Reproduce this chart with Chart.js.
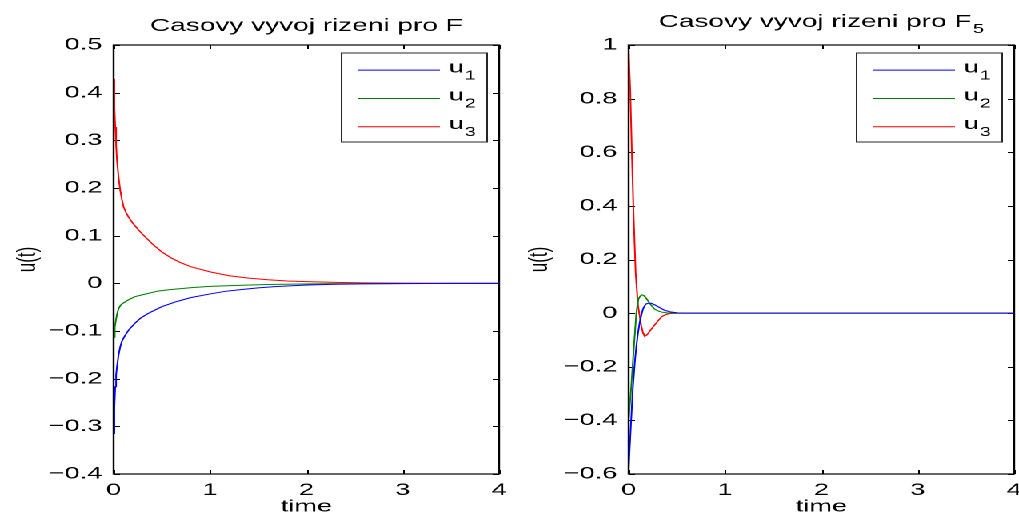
<!DOCTYPE html>
<html>
<head>
<meta charset="utf-8">
<script src="https://cdn.jsdelivr.net/npm/chart.js@4.4.1/dist/chart.umd.min.js"></script>
<style>
  html, body { margin: 0; padding: 0; background: #fff; overflow: hidden; }
  #wrap { position: absolute; left: 0; top: 0; width: 637px; height: 515px;
          transform: scaleX(1.5997); transform-origin: 0 0; }
  .pane { position: absolute; top: 0; height: 515px; }
</style>
</head>
<body>
<div id="wrap">
  <div class="pane" style="left:0;width:319px;"><canvas id="c1"></canvas></div>
  <div class="pane" style="left:319px;width:318px;"><canvas id="c2"></canvas></div>
</div>
<script>
// ---------- data ----------
const xTicks = [0, 1, 2, 3, 4];
const yTicksLeft = [-0.4, -0.3, -0.2, -0.1, 0, 0.1, 0.2, 0.3, 0.4, 0.5];
const yTicksRight = [-0.6, -0.4, -0.2, 0, 0.2, 0.4, 0.6, 0.8, 1];
const seriesNames = ['u', 'u', 'u'];
const seriesSubs = ['1', '2', '3'];
const seriesColors = ['#0000ff', '#008000', '#ff0000'];

// Left plot: F
const tL_u1 = [0, 0.008, 0.017, 0.026, 0.035, 0.052, 0.069, 0.087, 0.12, 0.16, 0.22, 0.28, 0.36, 0.5, 0.64, 0.8, 0.98, 1.15, 1.33, 1.5, 1.67, 1.85, 2.02, 2.3, 2.6, 3.0, 3.5, 4.0];
const uL_1  = [-0.315, -0.26, -0.217, -0.192, -0.175, -0.150, -0.133, -0.121, -0.109, -0.097, -0.084, -0.073, -0.063, -0.049, -0.039, -0.030, -0.023, -0.017, -0.013, -0.0095, -0.007, -0.005, -0.0035, -0.002, -0.0012, -0.0005, -0.0002, 0];
const tL_u2 = [0, 0.012, 0.024, 0.035, 0.052, 0.069, 0.087, 0.104, 0.15, 0.22, 0.3, 0.466, 0.6, 0.81, 1.0, 1.33, 1.6, 1.85, 2.2, 2.6, 3.0, 4.0];
const uL_2  = [-0.113, -0.092, -0.077, -0.065, -0.053, -0.047, -0.043, -0.041, -0.035, -0.028, -0.024, -0.016, -0.013, -0.009, -0.0065, -0.004, -0.0025, -0.0017, -0.001, -0.0005, -0.0003, 0];
const tL_u3 = [0, 0.008, 0.017, 0.026, 0.035, 0.052, 0.069, 0.087, 0.104, 0.13, 0.155, 0.2, 0.25, 0.3, 0.4, 0.5, 0.6, 0.7, 0.8, 1.0, 1.2, 1.4, 1.6, 1.8, 2.0, 2.3, 2.6, 3.0, 3.5, 4.0];
const uL_3  = [0.429, 0.37, 0.328, 0.29, 0.258, 0.222, 0.195, 0.175, 0.160, 0.148, 0.139, 0.126, 0.114, 0.103, 0.083, 0.066, 0.053, 0.043, 0.035, 0.024, 0.016, 0.011, 0.0075, 0.005, 0.0035, 0.002, 0.001, 0.0005, 0.0002, 0.0001];

// Right plot: F5
const tR_u1 = [0, 0.021, 0.045, 0.065, 0.08, 0.097, 0.114, 0.13, 0.149, 0.165, 0.18, 0.205, 0.235, 0.27, 0.30, 0.335, 0.37, 0.41, 0.44, 0.51, 0.6, 4.0];
const uR_1  = [-0.58, -0.435, -0.273, -0.18, -0.124, -0.075, -0.037, -0.01, 0.015, 0.027, 0.034, 0.037, 0.037, 0.031, 0.025, 0.018, 0.011, 0.007, 0.004, 0.001, 0, 0];
const tR_u2 = [0, 0.028, 0.055, 0.08, 0.1, 0.12, 0.138, 0.155, 0.173, 0.195, 0.218, 0.245, 0.27, 0.3, 0.34, 0.4, 0.5, 4.0];
const uR_2  = [-0.40, -0.27, -0.124, 0, 0.05, 0.064, 0.068, 0.066, 0.06, 0.049, 0.037, 0.025, 0.015, 0.009, 0.004, 0.001, 0, 0];
const tR_u3 = [0, 0.017, 0.035, 0.052, 0.073, 0.097, 0.11, 0.13, 0.15, 0.165, 0.18, 0.2, 0.235, 0.27, 0.3, 0.34, 0.38, 0.42, 0.5, 0.6, 4.0];
const uR_3  = [0.98, 0.83, 0.58, 0.36, 0.149, 0.03, 0, -0.045, -0.075, -0.085, -0.084, -0.077, -0.06, -0.044, -0.031, -0.014, -0.006, -0.002, -0.0005, 0, 0];

const titleLeft = 'Casovy vyvoj rizeni pro F';
const titleRight = 'Casovy vyvoj rizeni pro F';
const titleRightSub = '5';
const xLabel = 'time';
const yLabel = 'u(t)';

// ---------- helpers ----------
const FONT = '"Liberation Sans", Arial, Helvetica, sans-serif';
function pts(t, u) { return t.map((v, i) => ({ x: v, y: u[i] })); }
function fmt(v) {
  const r = Math.round(v * 1000) / 1000;
  if (r === 0) return '0';
  return (r < 0 ? '\u2212' : '') + String(Math.abs(r));
}

const decorPlugin = {
  id: 'decor',
  beforeDatasetsDraw(chart, args, opts) {
    const { ctx, chartArea: a, scales: { x, y } } = chart;
    ctx.save();
    ctx.strokeStyle = '#000';
    ctx.lineWidth = 1;
    const tl = 4;
    ctx.beginPath();
    x.ticks.forEach(t => {
      const px = Math.round(x.getPixelForValue(t.value)) + 0.5;
      ctx.moveTo(px, a.bottom); ctx.lineTo(px, a.bottom - tl);
      ctx.moveTo(px, a.top); ctx.lineTo(px, a.top + tl);
    });
    y.ticks.forEach(t => {
      const py = Math.round(y.getPixelForValue(t.value)) + 0.5;
      ctx.moveTo(a.left, py); ctx.lineTo(a.left + tl, py);
      ctx.moveTo(a.right, py); ctx.lineTo(a.right - tl, py);
    });
    ctx.stroke();
    ctx.lineWidth = 1.2;
    ctx.strokeRect(a.left, a.top, a.right - a.left, a.bottom - a.top);
    ctx.restore();
  },
  afterDatasetsDraw(chart, args, opts) {
    const { ctx, chartArea: a } = chart;
    ctx.save();
    // title
    const cx = (a.left + a.right) / 2;
    const mainFont = '17.5px ' + FONT;
    const subFont = '12.5px ' + FONT;
    ctx.font = mainFont;
    const w1 = ctx.measureText(opts.title).width;
    let w2 = 0;
    if (opts.titleSub) { ctx.font = subFont; w2 = ctx.measureText(opts.titleSub).width + 1; }
    const x0 = cx - (w1 + w2) / 2;
    ctx.fillStyle = '#000';
    ctx.textAlign = 'left';
    ctx.textBaseline = 'alphabetic';
    ctx.font = mainFont;
    ctx.fillText(opts.title, x0, opts.titleY);
    if (opts.titleSub) { ctx.font = subFont; ctx.fillText(opts.titleSub, x0 + w1 + 1, opts.titleY + 6); }

    // legend
    const bw = 91, bh = 89;
    const bx = a.right - 7.5 - bw, by = a.top + 8;
    ctx.fillStyle = '#fff';
    ctx.fillRect(bx, by, bw, bh);
    ctx.strokeStyle = '#262626';
    ctx.lineWidth = 1;
    ctx.strokeRect(bx, by, bw, bh);
    const rows = [16.6, 45, 73.3];
    chart.data.datasets.forEach((ds, i) => {
      const ry = by + rows[i];
      ctx.strokeStyle = ds.borderColor;
      ctx.lineWidth = 1;
      ctx.beginPath();
      ctx.moveTo(bx + 10, ry + 0.5); ctx.lineTo(bx + 61.5, ry + 0.5);
      ctx.stroke();
      ctx.fillStyle = '#000';
      ctx.font = '17px ' + FONT;
      ctx.fillText(seriesNames[i], bx + 67, ry + 2.7);
      const uw = ctx.measureText(seriesNames[i]).width;
      ctx.font = '12.5px ' + FONT;
      ctx.fillText(seriesSubs[i], bx + 67 + uw + 0.5, ry + 9.7);
    });
    ctx.restore();
  }
};

function makeChart(id, width, yTicks, yMin, yMax, series, yAxisWidth, padRight, title, titleSub, titleY, yTitlePad) {
  const canvas = document.getElementById(id);
  canvas.width = width; canvas.height = 515;
  canvas.style.width = width + 'px'; canvas.style.height = '515px';
  return new Chart(canvas, {
    type: 'line',
    data: {
      datasets: series.map((s, i) => ({
        label: seriesNames[i] + seriesSubs[i],
        data: pts(s[0], s[1]),
        borderColor: seriesColors[i],
        backgroundColor: seriesColors[i],
        borderWidth: 1,
        pointRadius: 0,
        tension: 0,
        fill: false
      }))
    },
    options: {
      responsive: false,
      animation: false,
      devicePixelRatio: 2,
      layout: { padding: { left: 0, top: 45, right: padRight, bottom: 0 } },
      plugins: {
        legend: { display: false },
        tooltip: { enabled: false },
        title: { display: false },
        decor: { title: title, titleSub: titleSub, titleY: titleY }
      },
      scales: {
        x: {
          type: 'linear',
          min: 0, max: 4,
          afterBuildTicks: s => { s.ticks = xTicks.map(v => ({ value: v })); },
          afterFit: s => { s.height = 41; s.paddingLeft = 0; s.paddingRight = 0; },
          grid: { display: false, drawTicks: false },
          border: { display: false },
          ticks: { autoSkip: false, maxRotation: 0, padding: 6, color: '#000',
                   font: { family: FONT, size: 17 }, callback: v => fmt(v) },
          title: { display: true, text: xLabel, color: '#000',
                   font: { family: FONT, size: 17 }, padding: { top: 0, bottom: -2 } }
        },
        y: {
          type: 'linear',
          min: yMin, max: yMax,
          afterBuildTicks: s => { s.ticks = yTicks.map(v => ({ value: v })); },
          afterFit: s => { s.width = yAxisWidth; s.paddingTop = 0; s.paddingBottom = 0; },
          grid: { display: false, drawTicks: false },
          border: { display: false },
          ticks: { autoSkip: false, padding: 7, color: '#000',
                   font: { family: FONT, size: 17 }, callback: v => fmt(v) },
          title: { display: true, text: yLabel, color: '#000',
                   font: { family: FONT, size: 17 }, padding: { top: yTitlePad, bottom: 0 } }
        }
      }
    },
    plugins: [decorPlugin]
  });
}

makeChart('c1', 319, yTicksLeft, -0.4, 0.5,
  [[tL_u1, uL_1], [tL_u2, uL_2], [tL_u3, uL_3]],
  71, 7, titleLeft, '', 31, 7);
makeChart('c2', 318, yTicksRight, -0.6, 1,
  [[tR_u1, uR_1], [tR_u2, uR_2], [tR_u3, uR_3]],
  74, 3, titleRight, titleRightSub, 27, 8);
</script>
</body>
</html>
